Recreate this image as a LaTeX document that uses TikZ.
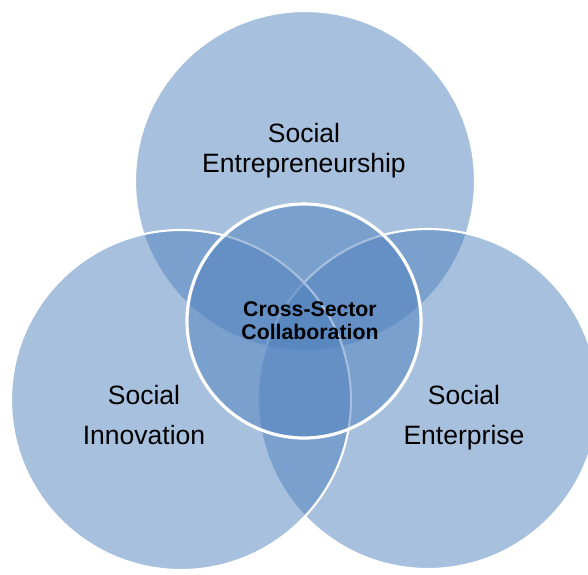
\documentclass[tikz,border=0pt]{standalone}
\usepackage{fontspec}
\setsansfont{Liberation Sans}
\usetikzlibrary{positioning}
\definecolor{cblue}{HTML}{4F81BD}
\tikzset{
  every picture/.style={font=\sffamily, line width=1.2pt},
  bubble/.style={circle, draw=white, fill=cblue, fill opacity=0.5, draw opacity=1, inner sep=0pt, minimum size=6.8cm},
  hub/.style={bubble, minimum size=4.68cm, line width=1.8pt},
  tag/.style={align=center, text=black, font=\sffamily\fontsize{15.1pt}{#1}\selectfont},
  tag/.default=17.1pt,
  hubtag/.style={align=center, text=black, font=\sffamily\bfseries\fontsize{12.1pt}{13.1pt}\selectfont},
}

\begin{document}
\begin{tikzpicture}
  \useasboundingbox (0,0) rectangle (11.76,-11.48);
  % the three sectors, back to front
  \node[bubble] (ent) at (6.1,-3.62) {};
  \node[bubble] (epr) at (8.56,-7.98) {};
  \node[bubble] (inn) at (3.62,-8.0) {};
  \node[hub] (hub) at (6.08,-6.42) {};
  % texts
  \node[tag] (ent-text) at (6.08,-3.02) {Social\\Entrepreneurship};
  \node[tag=22.8pt] (inn-text) at (2.88,-8.30) {Social\\Innovation};
  \node[tag=22.8pt] (epr-text) at (9.28,-8.36) {Social\\Enterprise};
  \node[hubtag] (hub-text) at (6.2,-6.42) {Cross-Sector\\Collaboration};
\end{tikzpicture}
\end{document}
